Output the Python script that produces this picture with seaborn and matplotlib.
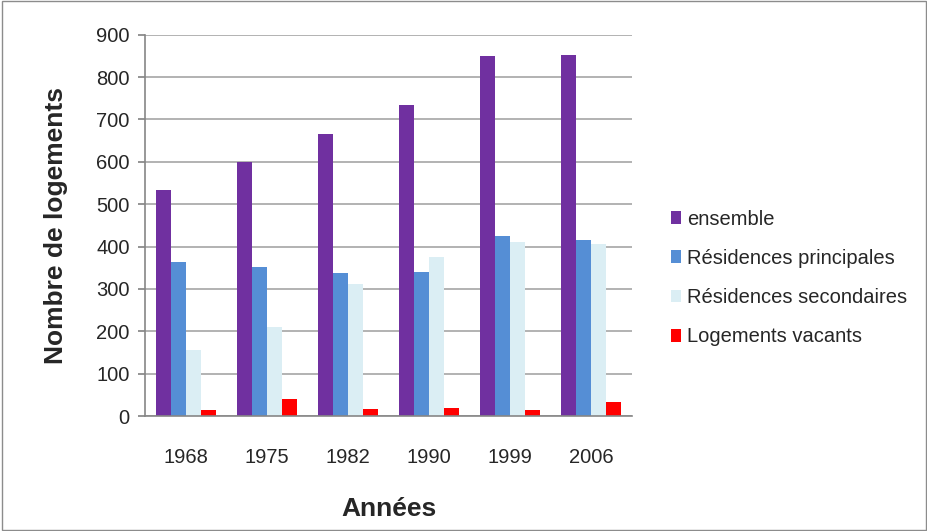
import matplotlib
matplotlib.use("Agg")
import matplotlib.pyplot as plt
import seaborn as sns
import pandas as pd
from matplotlib.patches import Rectangle, Patch

years = ["1968", "1975", "1982", "1990", "1999", "2006"]
ensemble = [534, 600, 665, 735, 850, 853]
principales = [363, 352, 338, 341, 425, 415]
secondaires = [156, 210, 311, 375, 411, 405]
vacants = [14, 39, 17, 20, 14, 34]
series_names = ["ensemble", "Résidences principales", "Résidences secondaires", "Logements vacants"]
colors = ["#7030A0", "#558ED5", "#DBEEF4", "#FF0000"]
yticks = [0, 100, 200, 300, 400, 500, 600, 700, 800, 900]

rows = []
for name, vals in zip(series_names, [ensemble, principales, secondaires, vacants]):
    for y, v in zip(years, vals):
        rows.append({"Année": y, "Série": name, "Valeur": v})
df = pd.DataFrame(rows)

sns.set_theme(style="white")
plt.rcParams["font.family"] = ["Liberation Sans", "DejaVu Sans"]

fig = plt.figure(figsize=(9.28, 5.31), dpi=100)
ax = fig.add_axes([145 / 928, 1 - 416 / 531, (632 - 145) / 928, (416 - 34.7) / 531])

sns.barplot(data=df, x="Année", y="Valeur", hue="Série", hue_order=series_names,
            palette=colors, width=0.74, gap=0, saturation=1, ax=ax, legend=False,
            edgecolor="none", linewidth=0)

ax.set_ylim(0, 900)
ax.set_yticks(yticks)
ax.set_xlim(-0.5, len(years) - 0.5)
ax.yaxis.grid(True, color="#A6A6A6", linewidth=1.2)
ax.set_axisbelow(True)
for s in ["top", "right"]:
    ax.spines[s].set_visible(False)
ax.spines["left"].set_color("#868686")
ax.spines["bottom"].set_color("#868686")
ax.spines["left"].set_linewidth(1.2)
ax.spines["bottom"].set_linewidth(1.2)
ax.tick_params(axis="y", left=True, length=5, color="#868686", labelsize=14.5, pad=6)
ax.tick_params(axis="x", bottom=False, labelsize=14.5, pad=17)
ax.set_xlabel("Années", fontsize=19, fontweight="bold", labelpad=22)
ax.set_ylabel("Nombre de logements", fontsize=19, fontweight="bold", labelpad=20)

handles = [Patch(facecolor=c, edgecolor="none", label=n) for c, n in zip(colors, series_names)]
fig.legend(handles=handles, loc="center left", bbox_to_anchor=(663 / 928, 1 - 278 / 531),
           frameon=False, fontsize=14.5, handlelength=0.5, handleheight=0.6,
           handletextpad=0.3, labelspacing=1.0, borderaxespad=0)

fig.patches.append(Rectangle((0.002, 0.002), 0.996, 0.996, transform=fig.transFigure,
                             fill=False, edgecolor="#8C8C8C", linewidth=1))

fig.savefig("out.png", dpi=100)
